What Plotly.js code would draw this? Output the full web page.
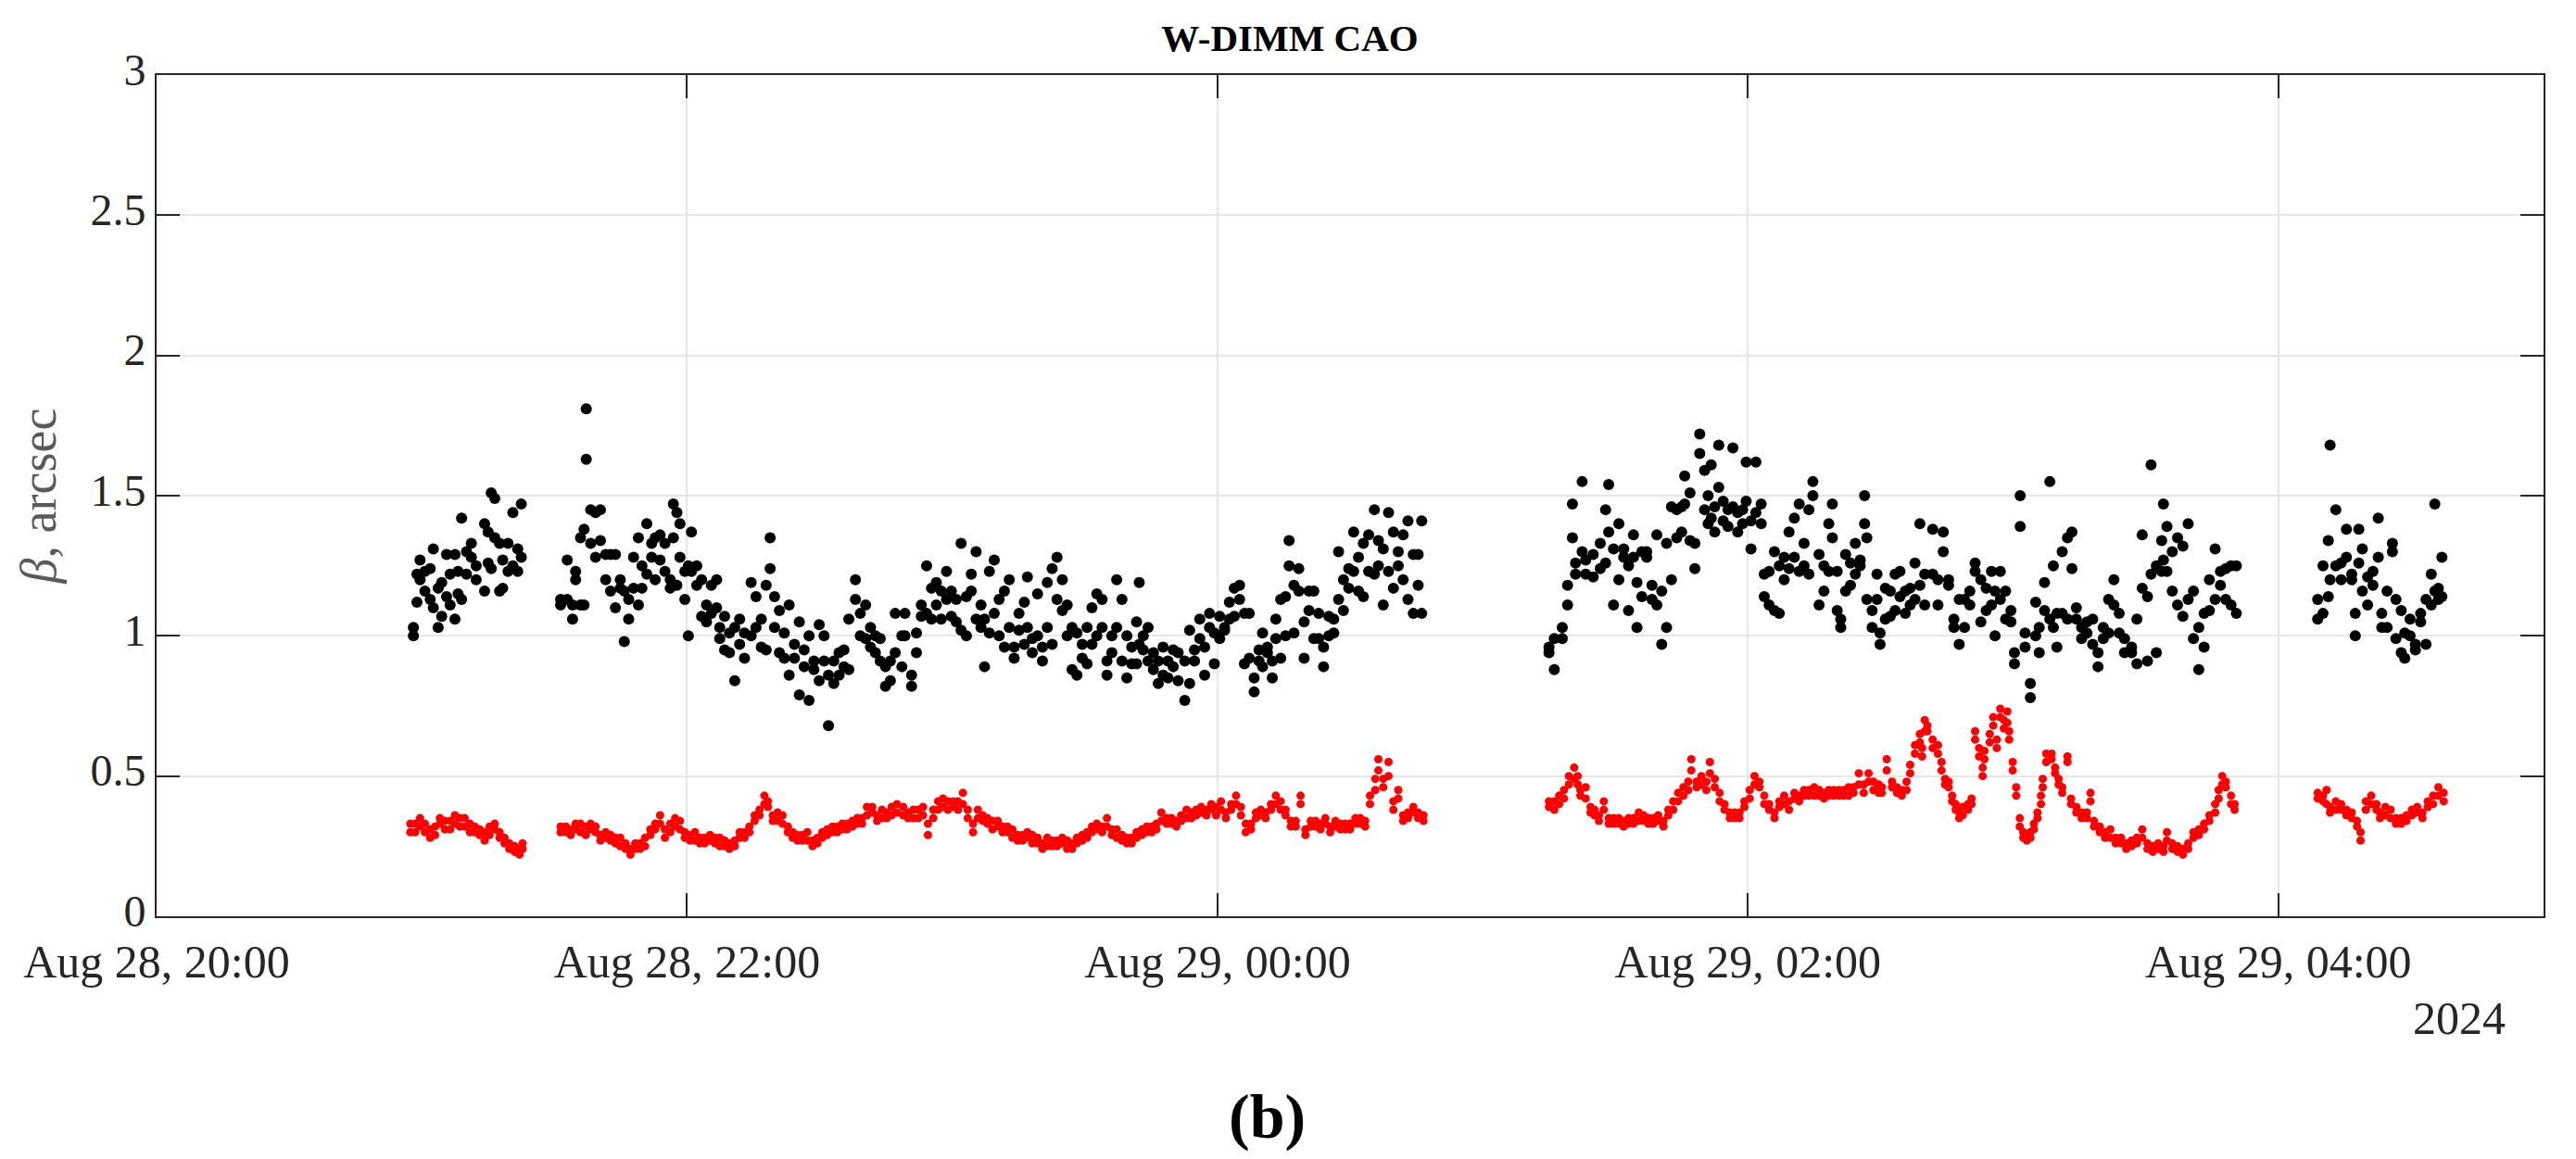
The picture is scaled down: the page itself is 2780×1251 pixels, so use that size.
<!DOCTYPE html>
<html>
<head>
<meta charset="utf-8">
<script src="https://cdn.plot.ly/plotly-3.0.1.min.js"></script>
<style>
  html, body { margin: 0; padding: 0; background: #ffffff; }
  #chart { width: 2780px; height: 1251px; }
</style>
</head>
<body>
<div id="chart"></div>
<script>
// ---------- DATA (minutes after 2024-08-28 20:00, beta in arcsec) ----------
// Black series: two readings per time stamp (A and B)
const blackTime = [
  58.1,58.9,59.6,60.7,61.9,62.6,63.7,64.5,65.6,66.4, 67.5,68.2,69.0,70.1,71.2,72.3,74.2,75.0,75.7,76.5, 77.6,78.3,79.5,80.6,81.7,82.5,
  91.4,92.9,94.1,94.8,95.9,96.7,97.2,98.2,99.3,100.4,
  101.6,102.7,103.8,104.9,105.8,106.8,107.9,109.0,109.8,110.9,
  112.0,112.8,113.9,115.0,116.2,116.9,117.7,118.4,119.5,120.3,
  121.0,122.2,123.3,124.4,125.5,126.7,127.4,128.5,129.6,130.8,
  131.9,133.0,134.5,135.6,136.8,137.9,138.8,139.8,140.9,142.0,
  143.1,144.3,145.4,146.5,147.6,148.7,149.9,151.0,152.0,153.2,
  154.4,155.5,156.6,158.1,159.2,160.4,161.5,162.6,163.7,164.9,
  166.0,167.1,168.6,
  169.3,170.8,171.9,173.0,174.2,175.3,176.4,177.5,178.7,179.8,
  180.9,182.0,183.2,184.3,185.4,186.5,187.3,188.4,189.5,190.6,
  191.8,192.9,194.0,195.1,196.3,197.0,198.1,199.3,200.4,201.5,
  202.6,203.7,204.9,206.0,207.1,208.2,209.4,210.5,211.6,212.7,
  213.9,215.0,216.1,217.2,218.4,219.5,220.6,221.7,222.3,223.2,
  224.3,225.5,226.6,227.7,228.8,230.0,231.1,232.6,233.7,234.8,
  236.0,237.1,238.2,239.3,240.5,241.6,242.7,243.8,245.0,246.1,
  247.2,248.3,249.4,250.2,251.3,252.4,253.2,254.3,255.4,256.2,
  257.3,258.4,259.6,260.7,261.8,262.9,264.0,265.2,266.3,267.4,
  268.5,269.7,270.8,271.9,273.0,274.2,275.5,276.4,277.5,278.7,
  279.8,280.9,282.0,283.1,284.3,285.4,286.2,
  315.0,316.2,318.0,319.2,320.3,321.0,322.5,323.3,325.0,326.6,
  327.8,328.5,329.6,330.8,331.9,333.0,334.1,334.9,336.0,337.1,
  338.3,339.4,340.5,341.6,342.7,343.9,345.0,345.7,346.9,348.0,
  349.1,350.2,351.0,351.7,352.5,353.4,354.4,355.5,356.6,357.7,
  358.8,359.6,360.7,361.8,363.0,363.7,364.8,366.0,367.1,368.2,
  369.3,370.5,371.6,372.7,373.8,374.7,376.1,377.2,378.3,379.1,
  380.2,381.0,382.1,383.2,384.3,385.4,386.4,386.9,388.1,389.2,
  389.9,391.1,392.2,393.3,394.4,395.6,396.7,397.8,398.9,400.0,
  401.8,403.0,404.2,405.4,406.6,407.8,409.0,410.2,411.4,412.7,
  413.9,415.1,415.9,417.1,418.3,419.5,420.3,421.6,422.7,423.9,
  425.1,425.9,427.1,428.3,429.1,429.9,431.1,432.3,433.3,434.3,
  435.5,436.7,438.0,439.2,440.4,441.6,442.8,444.0,445.2,446.8,
  448.0,449.2,450.4,451.2,452.4,453.6,454.0,454.8,456.0,457.2,
  458.4,459.6,460.8,462.0,463.2,464.4,465.7,466.9,468.1,469.3,
  470.5,
  488.9,490.1,491.3,491.7,493.0,494.2,495.4,496.6,497.4,498.2,
  499.0,500.2,501.4,502.6,503.4,504.6,505.8,506.6,507.8,508.6,
  509.8,511.0,512.2,513.4,514.6,515.4,516.2,517.0
];
const blackValA = [
  1.03,1.12,1.27,1.23,1.13,1.10,1.03,1.07,1.14,1.11, 1.06,1.23,1.42,1.22,1.28,1.20,1.16,1.37,1.24,1.49, 1.16,1.17,1.23,1.44,1.31,1.47,
  1.11,1.27,1.06,1.23,1.35,1.11,1.63,1.45,1.28,1.45,
  1.20,1.16,1.29,1.20,0.98,1.06,1.17,1.35,1.25,1.40,
  1.33,1.20,1.36,1.23,1.17,1.47,1.44,1.28,1.13,1.00,
  1.37,1.18,1.07,1.11,1.18,1.10,0.99,0.95,1.01,0.84,
  0.97,0.92,1.19,1.14,1.06,1.18,1.24,1.14,1.09,1.01,
  1.11,0.97,1.05,0.89,1.00,0.88,1.04,0.91,0.68,0.83,
  0.94,0.95,1.06,1.20,1.08,1.11,1.03,1.00,0.91,0.89,
  0.84,1.08,1.00,
  1.08,0.82,0.94,1.11,1.25,1.17,1.19,1.06,1.23,1.16,
  1.05,1.33,1.00,1.16,1.30,1.03,0.89,1.23,1.27,1.00,
  1.16,1.20,0.92,1.08,1.12,1.21,0.99,1.15,0.91,1.19,
  1.24,1.28,1.20,1.11,0.88,0.86,0.97,1.03,1.10,1.15,
  1.13,0.91,1.00,1.20,1.13,1.00,0.90,1.05,1.19,1.00,
  1.03,0.94,0.83,0.96,0.91,0.95,0.94,0.77,1.02,0.95,
  1.06,0.86,1.03,0.90,1.07,1.02,1.12,1.17,1.18,0.90,
  0.92,0.80,0.91,1.01,0.96,0.85,1.06,1.13,1.14,1.34,
  1.18,1.24,1.05,1.09,1.16,0.99,0.89,1.07,1.01,1.30,
  1.20,1.24,1.37,1.28,1.33,1.36,1.45,1.34,1.11,1.44,
  1.37,1.25,1.20,1.41,1.29,1.29,1.08,
  0.96,0.88,1.03,1.11,1.47,1.22,1.55,1.22,1.29,1.24,
  1.45,1.54,1.11,1.20,1.31,1.09,1.36,1.19,1.14,1.28,
  1.18,1.36,0.97,1.03,1.20,1.35,1.37,1.57,1.51,1.24,
  1.65,1.59,1.40,1.61,1.46,1.68,1.48,1.45,1.67,1.37,
  1.45,1.62,1.31,1.62,1.47,1.22,1.11,1.30,1.25,1.20,
  1.37,1.42,1.47,1.33,1.22,1.55,1.11,1.16,1.40,1.47,
  1.23,1.03,1.16,1.18,1.22,1.27,1.50,1.35,1.09,1.22,
  0.97,1.17,1.16,1.22,1.23,1.16,1.11,1.26,1.40,1.22,
  1.38,1.11,1.37,1.18,1.03,0.97,1.03,1.11,1.26,1.05,
  1.17,1.11,1.00,1.23,1.16,1.05,0.94,1.50,1.01,0.83,
  1.12,0.94,1.19,1.55,1.25,0.96,1.08,1.35,1.37,1.10,
  0.99,1.01,1.06,0.89,1.03,1.01,1.20,1.08,0.94,0.96,
  0.90,1.36,0.91,1.61,0.94,1.23,1.47,1.39,1.30,1.35,
  1.32,1.40,1.16,1.03,0.96,1.09,1.31,1.18,1.24,1.25,
  1.08,
  1.13,1.08,1.34,1.68,1.45,1.26,1.38,1.20,1.00,1.38,
  1.31,1.11,1.23,1.42,1.08,1.16,1.33,1.13,1.09,0.92,
  1.06,0.97,1.05,1.13,1.22,1.47,1.17,1.28
];
const blackValB = [
  1.00,1.22,1.20,1.16,1.24,1.31,1.17,1.19,1.29,1.22, 1.29,1.15,1.13,1.30,1.33,1.25,1.40,1.26,1.51,1.35, 1.33,1.27,1.33,1.25,1.23,1.28,
  1.13,1.13,1.11,1.20,1.11,1.38,1.81,1.33,1.44,1.34,
  1.29,1.29,1.10,1.17,1.16,1.13,1.28,1.11,1.17,1.22,
  1.28,1.35,1.27,1.33,1.20,1.35,1.18,1.40,1.23,1.25,
  1.23,1.25,1.20,1.05,1.08,1.20,1.03,1.07,0.94,1.03,
  1.06,1.01,1.00,1.03,0.96,0.95,1.35,1.03,0.94,0.92,
  0.86,0.92,0.79,0.95,0.77,0.91,0.84,1.00,0.86,0.91,
  0.86,0.89,0.88,1.13,1.00,0.99,0.96,0.94,0.99,0.82,
  0.91,0.94,0.89,
  1.00,0.86,1.01,1.07,1.08,1.06,1.11,1.16,1.13,1.07,
  1.13,1.02,1.14,1.22,1.06,1.11,1.06,1.01,1.08,1.13,
  0.96,1.03,0.96,1.02,0.97,1.03,0.94,1.00,0.96,1.03,
  0.97,1.13,1.09,1.00,1.03,1.01,0.92,0.90,0.97,1.00,
  1.03,0.86,0.94,1.03,0.91,0.85,0.96,0.90,0.97,0.95,
  0.91,0.88,0.91,0.86,0.85,0.89,0.84,0.91,0.83,0.91,
  0.99,0.96,1.08,1.01,0.99,1.03,1.06,1.07,1.13,1.08,
  1.08,0.85,0.95,0.89,0.94,0.91,0.99,0.92,1.00,1.25,
  1.01,1.16,0.92,1.16,0.99,1.08,0.96,1.00,1.06,1.13,
  1.09,1.17,1.23,1.16,1.14,1.23,1.22,1.25,1.31,1.23,
  1.17,1.30,1.36,1.13,1.08,1.18,1.41,
  0.94,0.99,0.99,1.18,1.35,1.26,1.30,1.27,1.21,1.33,
  1.26,1.37,1.31,1.40,1.28,1.25,1.28,1.03,1.30,1.30,
  1.13,1.11,1.16,1.33,1.46,1.45,1.46,1.47,1.34,1.33,
  1.72,1.45,1.50,1.42,1.37,1.53,1.41,1.39,1.46,1.44,
  1.40,1.48,1.41,1.44,1.40,1.14,1.23,1.09,1.08,1.28,
  1.24,1.28,1.23,1.25,1.45,1.50,1.29,1.25,1.23,1.35,
  1.09,1.06,1.29,1.26,1.33,1.25,1.40,1.13,1.03,1.13,
  1.01,1.06,1.07,1.09,1.14,1.08,1.17,1.13,1.18,1.11,
  1.22,1.20,1.30,1.20,1.06,1.13,1.13,1.16,1.23,1.20,
  1.09,1.23,1.16,1.13,1.06,1.09,0.90,1.39,0.96,0.78,
  1.00,1.03,1.09,1.06,1.03,1.08,1.30,1.06,1.24,1.06,
  1.03,1.05,0.97,0.94,0.99,1.13,1.11,1.01,0.99,0.94,
  1.06,1.17,1.14,1.22,1.25,1.34,1.27,1.23,1.16,1.11,
  1.07,1.13,0.99,0.88,1.08,1.20,1.13,1.23,1.13,1.11,
  1.25,
  1.06,1.25,1.14,1.20,1.25,1.20,1.28,1.22,1.08,1.26,
  1.16,1.21,1.18,1.28,1.03,1.03,1.30,0.99,0.94,1.01,
  1.00,0.95,1.08,0.97,1.11,1.16,1.13,1.14
];

// Red series: two readings per time stamp (A and B)
const redTime = [
  57.4,58.5,59.6,60.7,61.9,63.0,64.1,65.2,66.4,67.5,
  68.6,69.7,70.9,72.0,73.1,74.2,75.3,76.5,77.6,78.7,
  79.8,81.0,82.1,82.8,
  91.4,92.6,93.7,94.8,95.9,97.1,98.2,99.3,100.4,101.6,
  102.7,103.8,104.9,106.1,107.2,108.3,109.4,110.5,111.7,112.8,
  113.9,115.0,116.2,117.3,118.4,119.5,120.7,121.8,122.9,124.0,
  125.2,126.3,127.4,128.5,129.6,130.8,131.9,133.0,134.1,135.3,
  136.4,137.5,138.3,139.4,140.5,141.6,142.8,143.9,145.0,146.1,
  147.2,148.4,149.5,150.6,151.7,152.9,154.0,155.1,156.2,157.4,
  158.5,159.6,160.7,161.9,163.0,164.1,165.2,166.3,167.5,
  168.9,170.0,171.2,172.3,173.4,174.5,175.7,176.8,177.9,179.0,
  180.2,181.3,182.4,183.5,184.7,185.8,186.9,188.0,189.1,190.3,
  191.4,192.5,193.6,194.8,195.9,197.0,198.1,199.3,200.4,201.5,
  202.6,203.7,204.9,206.0,207.1,208.2,209.4,210.5,211.6,212.7,
  213.9,215.0,216.1,217.2,218.4,219.5,220.6,221.7,222.9,224.0,
  225.1,226.2,227.3,228.5,229.6,230.7,231.8,233.0,234.1,235.2,
  236.3,237.5,238.6,239.7,240.8,241.9,243.1,244.2,245.3,246.4,
  247.6,248.7,249.8,250.9,252.1,253.2,254.3,255.4,256.6,257.7,
  258.8,259.9,261.1,262.2,263.3,264.4,265.5,266.7,267.8,268.9,
  270.0,271.2,272.3,273.4,274.5,275.7,276.4,277.5,278.7,279.8,
  280.9,282.0,283.1,284.3,285.4,286.6,
  315.0,316.2,317.3,318.4,319.5,320.7,321.5,322.1,323.3,324.4,
  325.3,326.3,327.4,328.5,329.6,330.8,331.9,333.0,334.1,335.3,
  336.4,337.5,338.6,339.7,340.9,342.0,343.1,344.2,345.4,346.5,
  347.2,348.4,349.5,350.6,351.4,352.5,353.6,354.7,355.9,357.0,
  358.1,359.2,360.4,361.5,362.6,363.7,364.8,366.0,367.1,368.2,
  369.3,370.5,371.6,372.7,373.8,375.0,376.1,377.2,378.3,379.4,
  380.6,381.7,382.8,383.9,385.1,386.2,387.3,388.4,389.6,390.3,
  391.4,392.6,393.7,394.8,395.9,396.7,397.8,398.9,399.4,400.0,
  400.6,401.8,403.0,403.8,404.6,405.4,406.2,407.0,407.8,408.6,
  409.8,410.6,411.4,412.3,413.1,413.5,414.7,415.5,416.3,417.1,
  417.9,418.7,419.1,419.9,420.7,421.5,422.3,423.1,423.9,424.7,
  425.5,426.3,426.7,427.5,428.7,429.5,430.3,431.1,432.3,433.1,
  434.3,435.5,436.7,437.5,438.3,439.6,440.8,442.0,443.2,444.4,
  445.6,446.8,448.0,449.2,450.4,451.6,452.8,454.0,454.8,456.0,
  457.2,458.4,459.6,460.8,462.0,463.2,464.4,465.7,466.5,467.3,
  468.1,469.3,470.1,
  488.9,490.1,490.9,491.7,493.0,494.2,495.4,496.6,497.8,498.6,
  499.8,501.0,502.2,503.0,504.2,505.4,506.6,507.8,509.0,510.2,
  511.4,512.6,513.8,515.0,516.2,517.4
];
const redValA = [
  0.30,0.33,0.35,0.30,0.28,0.32,0.33,0.31,0.34,0.36,
  0.35,0.32,0.33,0.30,0.29,0.30,0.32,0.31,0.28,0.26,
  0.24,0.23,0.24,0.24,
  0.30,0.32,0.29,0.33,0.30,0.32,0.33,0.30,0.29,0.28,
  0.29,0.26,0.28,0.24,0.24,0.26,0.24,0.28,0.31,0.33,
  0.36,0.28,0.33,0.32,0.34,0.28,0.27,0.30,0.26,0.28,
  0.29,0.26,0.28,0.27,0.24,0.27,0.28,0.30,0.32,0.34,
  0.38,0.43,0.39,0.34,0.37,0.36,0.30,0.28,0.29,0.27,
  0.30,0.25,0.28,0.30,0.29,0.32,0.30,0.33,0.31,0.34,
  0.33,0.35,0.39,0.37,0.34,0.38,0.35,0.39,0.37,
  0.39,0.35,0.38,0.35,0.39,0.29,0.38,0.41,0.39,0.41,
  0.39,0.41,0.44,0.35,0.30,0.38,0.36,0.33,0.34,0.32,
  0.32,0.30,0.31,0.27,0.29,0.28,0.29,0.26,0.24,0.28,
  0.25,0.27,0.26,0.27,0.24,0.26,0.29,0.28,0.32,0.33,
  0.30,0.35,0.29,0.31,0.27,0.26,0.28,0.30,0.29,0.32,
  0.30,0.33,0.37,0.33,0.35,0.32,0.34,0.38,0.35,0.38,
  0.39,0.36,0.38,0.39,0.41,0.35,0.38,0.43,0.39,0.30,
  0.33,0.35,0.38,0.35,0.38,0.43,0.41,0.38,0.34,0.32,
  0.43,0.29,0.32,0.34,0.31,0.35,0.32,0.32,0.33,0.31,
  0.33,0.33,0.35,0.32,0.43,0.49,0.56,0.46,0.55,0.38,
  0.45,0.34,0.37,0.39,0.37,0.34,
  0.39,0.41,0.40,0.45,0.47,0.53,0.50,0.43,0.46,0.37,
  0.38,0.36,0.41,0.35,0.33,0.35,0.32,0.35,0.33,0.37,
  0.34,0.35,0.33,0.36,0.32,0.38,0.38,0.44,0.43,0.45,
  0.56,0.46,0.50,0.45,0.55,0.49,0.44,0.38,0.37,0.35,
  0.37,0.39,0.45,0.50,0.46,0.43,0.38,0.37,0.39,0.43,
  0.38,0.44,0.41,0.45,0.43,0.46,0.43,0.44,0.43,0.45,
  0.43,0.45,0.43,0.44,0.51,0.44,0.51,0.45,0.47,0.44,
  0.56,0.46,0.44,0.45,0.45,0.54,0.61,0.65,0.57,0.70,
  0.66,0.63,0.61,0.52,0.49,0.46,0.43,0.38,0.35,0.39,
  0.40,0.42,0.66,0.57,0.50,0.56,0.62,0.71,0.60,0.74,
  0.67,0.73,0.66,0.52,0.46,0.32,0.28,0.27,0.30,0.33,
  0.35,0.43,0.46,0.58,0.58,0.51,0.49,0.46,0.57,0.42,
  0.39,0.35,0.37,0.44,0.34,0.30,0.28,0.31,0.26,0.28,
  0.24,0.27,0.26,0.31,0.26,0.23,0.26,0.23,0.30,0.26,
  0.23,0.22,0.26,0.28,0.31,0.33,0.34,0.37,0.45,0.50,
  0.46,0.43,0.38,
  0.44,0.41,0.45,0.37,0.41,0.38,0.38,0.35,0.32,0.27,
  0.41,0.43,0.38,0.35,0.39,0.38,0.33,0.35,0.34,0.38,
  0.39,0.35,0.39,0.43,0.46,0.41
];
const redValB = [
  0.33,0.30,0.32,0.33,0.31,0.29,0.35,0.34,0.31,0.33,
  0.32,0.35,0.30,0.32,0.31,0.27,0.29,0.33,0.30,0.28,
  0.26,0.25,0.22,0.26,
  0.32,0.30,0.31,0.31,0.33,0.29,0.31,0.32,0.27,0.30,
  0.27,0.28,0.25,0.26,0.22,0.24,0.26,0.25,0.29,0.31,
  0.33,0.31,0.30,0.35,0.31,0.30,0.29,0.27,0.28,0.26,
  0.27,0.28,0.25,0.25,0.26,0.25,0.30,0.28,0.30,0.36,
  0.36,0.40,0.41,0.36,0.34,0.33,0.32,0.30,0.27,0.29,
  0.27,0.27,0.26,0.28,0.31,0.30,0.32,0.31,0.33,0.32,
  0.35,0.33,0.36,0.39,0.36,0.35,0.37,0.36,0.40,
  0.36,0.37,0.35,0.38,0.36,0.33,0.35,0.38,0.42,0.38,
  0.41,0.38,0.40,0.38,0.33,0.35,0.34,0.35,0.31,0.34,
  0.30,0.32,0.28,0.29,0.27,0.30,0.26,0.28,0.26,0.25,
  0.27,0.25,0.28,0.24,0.26,0.28,0.27,0.30,0.30,0.31,
  0.32,0.32,0.31,0.28,0.29,0.28,0.26,0.28,0.31,0.30,
  0.32,0.31,0.34,0.35,0.33,0.34,0.36,0.35,0.37,0.36,
  0.37,0.38,0.40,0.36,0.38,0.37,0.40,0.40,0.36,0.33,
  0.31,0.37,0.36,0.37,0.40,0.40,0.38,0.36,0.32,0.34,
  0.40,0.31,0.34,0.32,0.33,0.33,0.30,0.34,0.31,0.33,
  0.31,0.35,0.33,0.34,0.40,0.45,0.52,0.49,0.50,0.41,
  0.42,0.36,0.35,0.37,0.35,0.36,
  0.41,0.38,0.43,0.42,0.50,0.49,0.47,0.45,0.42,0.39,
  0.36,0.34,0.38,0.33,0.35,0.33,0.34,0.33,0.35,0.34,
  0.36,0.33,0.35,0.34,0.34,0.36,0.41,0.41,0.46,0.48,
  0.52,0.48,0.47,0.48,0.51,0.46,0.41,0.40,0.35,0.37,
  0.35,0.41,0.42,0.47,0.48,0.40,0.40,0.35,0.41,0.40,
  0.41,0.42,0.43,0.43,0.45,0.43,0.45,0.42,0.45,0.43,
  0.45,0.43,0.46,0.46,0.47,0.47,0.48,0.48,0.44,0.46,
  0.52,0.48,0.46,0.43,0.48,0.51,0.58,0.62,0.60,0.66,
  0.68,0.60,0.58,0.55,0.47,0.48,0.41,0.40,0.37,0.36,
  0.38,0.40,0.63,0.60,0.53,0.59,0.65,0.68,0.63,0.71,
  0.70,0.69,0.63,0.55,0.43,0.35,0.30,0.29,0.28,0.31,
  0.37,0.40,0.49,0.55,0.56,0.53,0.47,0.44,0.55,0.40,
  0.37,0.37,0.35,0.41,0.32,0.32,0.30,0.28,0.28,0.26,
  0.26,0.25,0.28,0.28,0.24,0.25,0.24,0.25,0.27,0.24,
  0.25,0.24,0.24,0.30,0.29,0.31,0.36,0.40,0.42,0.47,
  0.48,0.40,0.40,
  0.42,0.43,0.40,0.39,0.38,0.40,0.36,0.37,0.34,0.30,
  0.38,0.40,0.40,0.37,0.36,0.35,0.35,0.33,0.36,0.36,
  0.37,0.37,0.41,0.40,0.43,0.44
];

// Axis ticks
const xTickTimes  = ['2024-08-28 20:00:00','2024-08-28 22:00:00','2024-08-29 00:00:00','2024-08-29 02:00:00','2024-08-29 04:00:00'];
const xTickLabels = ['Aug 28, 20:00','Aug 28, 22:00','Aug 29, 00:00','Aug 29, 02:00','Aug 29, 04:00'];
const yTickVals   = [0, 0.5, 1, 1.5, 2, 2.5, 3];
const yTickLabels = ['0','0.5','1','1.5','2','2.5','3'];
const xRange = ['2024-08-28 20:00:00','2024-08-29 05:00:00'];

// ---------- helpers ----------
const BASE_MS = Date.UTC(2024, 7, 28, 20, 0, 0);
function minToDate(m) {
  return new Date(BASE_MS + Math.round(m * 60000)).toISOString().replace('T', ' ').slice(0, 19);
}
const nB = Math.min(blackTime.length, blackValA.length, blackValB.length);
const nR = Math.min(redTime.length, redValA.length, redValB.length);

const bx = [], by = [];
for (let i = 0; i < nB; i++) { bx.push(minToDate(blackTime[i])); by.push(blackValA[i]); }
for (let i = 0; i < nB; i++) { bx.push(minToDate(blackTime[i])); by.push(blackValB[i]); }
const rx = [], ry = [];
for (let i = 0; i < nR; i++) { rx.push(minToDate(redTime[i])); ry.push(redValA[i]); }
for (let i = 0; i < nR; i++) { rx.push(minToDate(redTime[i])); ry.push(redValB[i]); }

const FONT = 'Liberation Serif, Times New Roman, serif';
const AX = '#262626';

const traces = [
  { type: 'scatter', mode: 'markers', x: bx, y: by, name: 'black',
    marker: { color: '#000000', size: 12, line: { width: 0 } }, hoverinfo: 'x+y' },
  { type: 'scatter', mode: 'markers', x: rx, y: ry, name: 'red',
    marker: { color: '#ff0000', size: 9, line: { width: 0 } }, hoverinfo: 'x+y' }
];

const layout = {
  width: 2780, height: 1251,
  paper_bgcolor: '#ffffff', plot_bgcolor: '#ffffff',
  margin: { l: 169, r: 35, t: 81, b: 262, pad: 0 },
  showlegend: false,
  font: { family: FONT, color: AX },
  title: { text: '<b>W-DIMM CAO</b>', font: { family: FONT, size: 41, color: '#000000' },
           x: (1392 - 169) / 2576, xref: 'paper', xanchor: 'center', y: 1251 - 38, yref: 'container', yanchor: 'middle' },
  xaxis: {
    type: 'date', range: xRange, autorange: false,
    tickmode: 'array', tickvals: xTickTimes, ticktext: xTickLabels,
    ticks: 'inside', ticklen: 25, tickwidth: 2, tickcolor: AX,
    showline: true, linecolor: AX, linewidth: 2, mirror: 'ticks',
    showgrid: true, gridcolor: '#e6e6e6', gridwidth: 2, zeroline: false,
    tickfont: { family: FONT, size: 50, color: AX }, ticklabelstandoff: 4
  },
  yaxis: {
    range: [0, 3], autorange: false,
    tickmode: 'array', tickvals: yTickVals, ticktext: yTickLabels,
    ticks: 'inside', ticklen: 25, tickwidth: 2, tickcolor: AX,
    showline: true, linecolor: AX, linewidth: 2, mirror: 'ticks',
    showgrid: true, gridcolor: '#e6e6e6', gridwidth: 2, zeroline: false,
    tickfont: { family: FONT, size: 48, color: AX }, ticklabelshift: -6,
    title: { text: '<i>β</i>, arcsec', font: { family: FONT, size: 54, color: '#5a5a5a' }, standoff: 20 }
  },
  annotations: [
    { text: '2024', xref: 'paper', yref: 'paper', x: (2706 - 169) / 2576, y: (989 - 1099) / 908,
      xanchor: 'right', yanchor: 'middle', showarrow: false, font: { family: FONT, size: 50, color: AX } },
    { text: '<b>(b)</b>', xref: 'paper', yref: 'paper', x: (1367 - 169) / 2576, y: (989 - 1205) / 908,
      xanchor: 'center', yanchor: 'middle', showarrow: false, font: { family: FONT, size: 68, color: '#000000' } }
  ]
};

Plotly.newPlot('chart', traces, layout, { staticPlot: true, displayModeBar: false });
</script>
</body>
</html>
